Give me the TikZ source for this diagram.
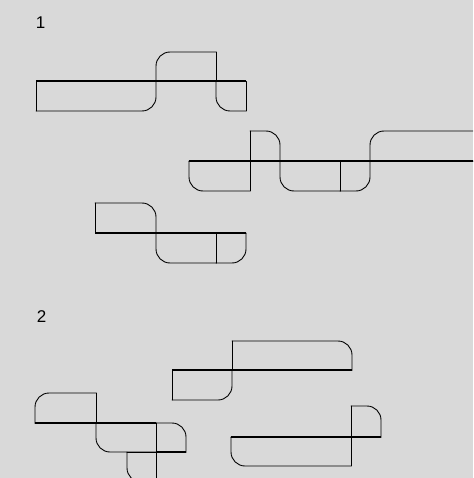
\documentclass[tikz,border=0pt]{standalone}
\usepackage{fontspec}
\setmainfont{Liberation Sans}
\definecolor{bgc}{RGB}{217,217,217}
\tikzset{
  cell/.style={draw=black, line width=0.9pt, line cap=round, line join=round},
  roundcell/.style={cell, rounded corners=14pt},
  baseln/.style={draw=black, line width=1.6pt},
  lbl/.style={font=\fontsize{17}{19}\selectfont, inner sep=0pt}
}
% box with one rounded corner: args x1,y1,x2,y2 (y downward)
\newcommand{\cellTL}[4]{\draw[roundcell] (#1,#4) -- (#1,#2) -- (#3,#2); \draw[cell] (#3,#2) -- (#3,#4) -- (#1,#4);}
\newcommand{\cellTR}[4]{\draw[roundcell] (#1,#2) -- (#3,#2) -- (#3,#4); \draw[cell] (#3,#4) -- (#1,#4) -- (#1,#2);}
\newcommand{\cellBR}[4]{\draw[roundcell] (#3,#2) -- (#3,#4) -- (#1,#4); \draw[cell] (#1,#4) -- (#1,#2) -- (#3,#2);}
\newcommand{\cellBL}[4]{\draw[roundcell] (#3,#4) -- (#1,#4) -- (#1,#2); \draw[cell] (#1,#2) -- (#3,#2) -- (#3,#4);}
\begin{document}
\begin{tikzpicture}[x=1pt,y=-1pt]
\fill[bgc] (0,0) rectangle (473,478);
\useasboundingbox (0,0) rectangle (473,478);
\clip (0,0) rectangle (473,478);

\node[lbl] (l1) at (40.5,22.5) {1};
\node[lbl] (l2) at (41.5,316.5) {2};

% shape 1
\cellBR{36}{81}{156}{111}
\cellTL{156}{52}{216}{81}
\cellBL{216}{81}{246}{111}
\draw[baseln] (36,81) -- (246,81);

% shape 2
\cellBL{189}{161}{250}{191}
\cellTR{250}{131}{280}{161}
\cellBL{280}{161}{340}{191}
\cellBR{340}{161}{370}{191}
\cellTL{370}{131}{490}{161}
\draw[baseln] (189,161) -- (480,161);

% shape 3
\cellTR{95}{203}{156}{233}
\cellBL{156}{233}{216}{263}
\cellBR{216}{233}{246}{263}
\draw[baseln] (95,233) -- (246,233);

% shape 4
\cellBR{172}{370}{232}{400}
\cellTR{232}{341}{352}{370}
\draw[baseln] (172,370) -- (352,370);

% shape 5
\cellTL{35}{393}{96}{423}
\cellBL{96}{423}{156}{452}
\cellTR{156}{423}{186}{452}
\cellBL{127}{452}{156}{482}
\draw[baseln] (35,423) -- (156,423);
\draw[baseln] (156,452) -- (186,452);

% shape 6
\cellBL{231}{437}{351}{466}
\cellTR{351}{406}{381}{437}
\draw[baseln] (231,437) -- (381,437);
\end{tikzpicture}
\end{document}
